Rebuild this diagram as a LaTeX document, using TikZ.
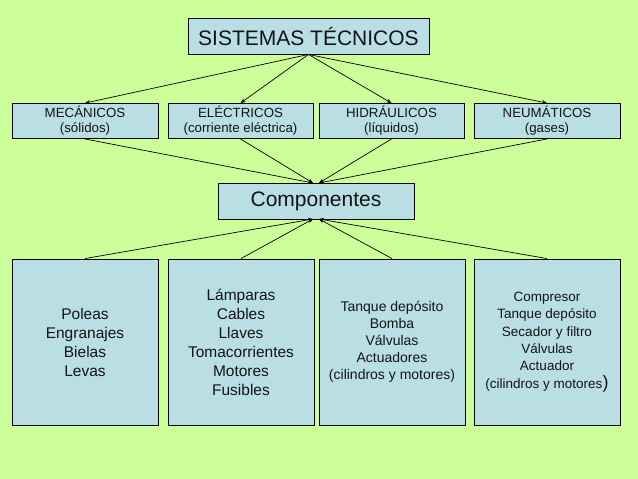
\documentclass[tikz,border=0pt]{standalone}
\usepackage{fontspec}
\setmainfont{Liberation Sans}
\usetikzlibrary{arrows.meta}
\definecolor{bg}{RGB}{204,255,153}
\definecolor{boxfill}{RGB}{185,222,228}
\definecolor{ink}{RGB}{20,20,20}
\tikzset{
  box/.style={draw=black, line width=0.9pt, fill=boxfill, rectangle, inner sep=0pt, align=center, text=ink},
  conn/.style={line width=0.7pt, draw=black, -{Stealth[length=5pt,width=4pt]}},
}
\begin{document}
\begin{tikzpicture}[x=1pt,y=-1pt]
\fill[bg] (0,0) rectangle (638,479);
\useasboundingbox (0,0) rectangle (638,479);

\node[box, minimum width=241pt, minimum height=36pt, font=\fontsize{21}{24}\selectfont] (title) at (308.5,36) {SISTEMAS TÉCNICOS};

\tikzset{row/.style={box, minimum width=146pt, minimum height=35pt, font=\fontsize{13.3}{15}\selectfont}}
\node[row] (mec) at (85,121) {MECÁNICOS\\(sólidos)};
\node[row, minimum width=145pt] (ele) at (240.5,121) {ELÉCTRICOS\\(corriente eléctrica)};
\node[row, minimum width=145pt] (hid) at (391.5,121) {HIDRÁULICOS\\(líquidos)};
\node[row] (neu) at (547,121) {NEUMÁTICOS\\(gases)};

\node[box, minimum width=196pt, minimum height=36pt, font=\fontsize{21}{24}\selectfont] (comp) at (316,201) {Componentes};

\tikzset{big/.style={box, minimum width=146pt, minimum height=166pt}}
\node[big, font=\fontsize{15.5}{19}\selectfont] (b1) at (85,342) {Poleas\\Engranajes\\Bielas\\Levas};
\node[big, font=\fontsize{15.5}{19}\selectfont] (b2) at (241,342) {Lámparas\\Cables\\Llaves\\Tomacorrientes\\Motores\\Fusibles};
\node[big, font=\fontsize{14}{17}\selectfont] (b3) at (392,342) {Tanque depósito\\Bomba\\Válvulas\\Actuadores\\(cilindros y motores)};
\node[big, font=\fontsize{13.5}{17.4}\selectfont] (b4) at (547,342) {Compresor\\Tanque depósito\\Secador y filtro\\Válvulas\\Actuador\\(cilindros y motores{\fontsize{18}{17.4}\selectfont)}};

\coordinate (cnl) at (313,183);
\coordinate (cnr) at (319,183);
\coordinate (csl) at (313,219);
\coordinate (csr) at (319,219);

\foreach \n in {mec,ele,hid,neu} \draw[conn] (title.south) -- (\n.north);
\draw[conn] (mec.south) -- (cnl);
\draw[conn] (ele.south) -- (cnl);
\draw[conn] (hid.south) -- (cnr);
\draw[conn] (neu.south) -- (cnr);
\draw[conn] (b1.north) -- (csl);
\draw[conn] (b2.north) -- (csl);
\draw[conn] (b3.north) -- (csr);
\draw[conn] (b4.north) -- (csr);
\end{tikzpicture}
\end{document}
